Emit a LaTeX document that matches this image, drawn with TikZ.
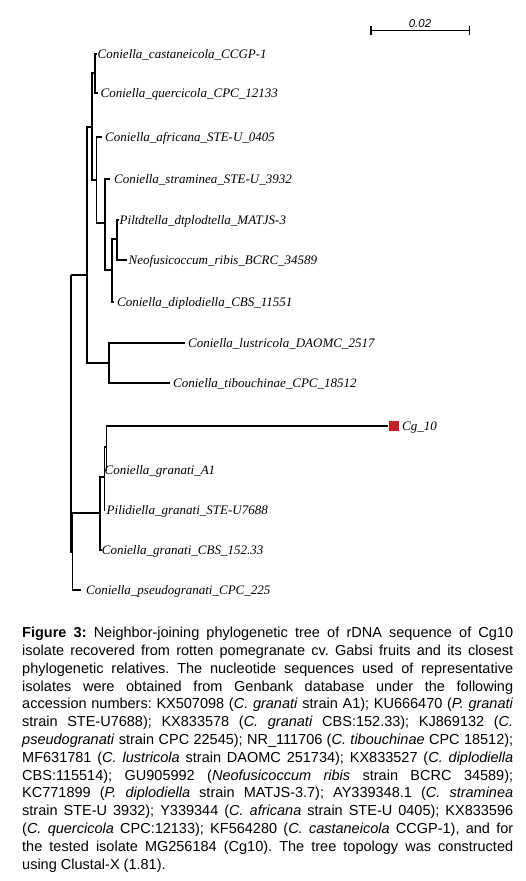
\documentclass[tikz,border=0pt]{standalone}
\usepackage{fontspec}
\setmainfont{Liberation Sans}
\newfontfamily\treefont{Liberation Serif}
\definecolor{cgred}{RGB}{192,32,40}
\tikzset{
  branch/.style={line width=1.1pt},
  leaflabel/.style={anchor=base west, inner sep=0pt, font=\treefont\itshape\fontsize{13}{15}\selectfont},
}
\begin{document}
\begin{tikzpicture}[x=1pt,y=-1pt]
\useasboundingbox (0,0) rectangle (526,881);
% ---- internal nodes
\coordinate (r) at (71,275);
\coordinate (u) at (87,275);
\coordinate (u1) at (92,127);
\coordinate (c1) at (95,73);
\coordinate (c2) at (96.5,180);
\coordinate (c3) at (105,223);
\coordinate (c4) at (112,270);
\coordinate (c5) at (117,239);
\coordinate (u2) at (109,363);
\coordinate (l) at (72.3,552);
\coordinate (g1) at (100,513);
\coordinate (g2) at (104.3,477);
\coordinate (g3) at (106.3,447);
% ---- leaf ends
\coordinate (e1) at (96.5,54);
\coordinate (e2) at (98,93);
\coordinate (e3) at (102,137);
\coordinate (e4) at (110,179);
\coordinate (e5) at (118.5,220);
\coordinate (e6) at (127,260);
\coordinate (e7) at (113.5,302);
\coordinate (e8) at (185,343);
\coordinate (e9) at (170,383);
\coordinate (e10) at (388,426);
\coordinate (e11) at (107,470);
\coordinate (e12) at (104.8,510);
\coordinate (e13) at (101.5,550);
\coordinate (e14) at (81,590);
% ---- branches
\draw[branch] (r) |- (u);
\draw[branch] (r) |- (l);
\draw[branch] (u) |- (u1);
\draw[branch] (u) |- (u2);
\draw[branch] (u1) |- (c1);
\draw[branch] (u1) |- (c2);
\draw[branch] (c1) |- (e1);
\draw[branch] (c1) |- (e2);
\draw[branch] (c2) |- (e3);
\draw[branch] (c2) |- (c3);
\draw[branch] (c3) |- (e4);
\draw[branch] (c3) |- (c4);
\draw[branch] (c4) |- (c5);
\draw[branch] (c4) |- (e7);
\draw[branch] (c5) |- (e5);
\draw[branch] (c5) |- (e6);
\draw[branch] (u2) |- (e8);
\draw[branch] (u2) |- (e9);
\draw[branch] (l) |- (g1);
\draw[branch] (l) |- (e14);
\draw[branch] (g1) |- (g2);
\draw[branch] (g1) |- (e13);
\draw[branch] (g2) |- (g3);
\draw[branch] (g2) |- (e12);
\draw[branch] (g3) |- (e10);
\draw[branch] (g3) |- (e11);
% ---- labels
\node[leaflabel] (t1) at (97.5,58.5) {Coniella\_castaneicola\_CCGP-1};
\node[leaflabel] (t2) at (100.5,97.5) {Coniella\_quercicola\_CPC\_12133};
\node[leaflabel] (t3) at (105,141.5) {Coniella\_africana\_STE-U\_0405};
\node[leaflabel] (t4) at (114,183.5) {Coniella\_straminea\_STE-U\_3932};
\node[leaflabel] (t5) at (119.5,224.5) {Piltdtella\_dtplodtella\_MATJS-3};
\node[leaflabel] (t6) at (128.5,264.5) {Neofusicoccum\_ribis\_BCRC\_34589};
\node[leaflabel] (t7) at (117,306.5) {Coniella\_diplodiella\_CBS\_11551};
\node[leaflabel] (t8) at (188,347.5) {Coniella\_lustricola\_DAOMC\_2517};
\node[leaflabel] (t9) at (173,387.5) {Coniella\_tibouchinae\_CPC\_18512};
\node[fill=cgred, minimum size=10pt, inner sep=0pt, anchor=west] (mk) at (388.3,425.5) {};
\node[leaflabel] (t10) at (402,430.5) {Cg\_10};
\node[leaflabel] (t11) at (104.5,474.5) {Coniella\_granati\_A1};
\node[leaflabel] (t12) at (106.5,514.5) {Pilidiella\_granati\_STE-U7688};
\node[leaflabel] (t13) at (101.7,554.5) {Coniella\_granati\_CBS\_152.33};
\node[leaflabel] (t14) at (86,594.5) {Coniella\_pseudogranati\_CPC\_225};
% ---- scale bar
\coordinate (sbl) at (371,30.7);
\coordinate (sbr) at (469.3,30.7);
\draw[line width=1.1pt] (sbl) -- (sbr);
\draw[line width=1.1pt] ([yshift=4.5pt]sbl) -- ([yshift=-4.5pt]sbl);
\draw[line width=1.1pt] ([yshift=4.5pt]sbr) -- ([yshift=-4.5pt]sbr);
\node[anchor=base, inner sep=0pt, font=\itshape\fontsize{11.4}{13}\selectfont] (sbt) at (420,27.7) {0.02};
% ---- caption
\node[anchor=base west, inner sep=0pt] (cap) at (22,637.7) {\parbox[t]{491pt}{\fontsize{14.5}{17.8}\selectfont\frenchspacing
\makebox[491pt][s]{\textbf{Figure 3:} Neighbor-joining phylogenetic tree of rDNA sequence of Cg10}\\
\makebox[491pt][s]{isolate recovered from rotten pomegranate cv. Gabsi fruits and its closest}\\
\makebox[491pt][s]{phylogenetic relatives. The nucleotide sequences used of representative}\\
\makebox[491pt][s]{isolates were obtained from Genbank database under the following}\\
\makebox[491pt][s]{accession numbers: KX507098 (\textit{C. granati} strain A1); KU666470 (\textit{P. granati}}\\
\makebox[491pt][s]{strain STE-U7688); KX833578 (\textit{C. granati} CBS:152.33); KJ869132 (\textit{C.}}\\
\makebox[491pt][s]{\textit{pseudogranati} strain CPC 22545); NR\_111706 (\textit{C. tibouchinae} CPC 18512);}\\
\makebox[491pt][s]{MF631781 (\textit{C. lustricola} strain DAOMC 251734); KX833527 (\textit{C. diplodiella}}\\
\makebox[491pt][s]{CBS:115514); GU905992 (\textit{Neofusicoccum ribis} strain BCRC 34589);}\\
\makebox[491pt][s]{KC771899 (\textit{P. diplodiella} strain MATJS-3.7); AY339348.1 (\textit{C. straminea}}\\
\makebox[491pt][s]{strain STE-U 3932); Y339344 (\textit{C. africana} strain STE-U 0405); KX833596}\\
\makebox[491pt][s]{(\textit{C. quercicola} CPC:12133); KF564280 (\textit{C. castaneicola} CCGP-1), and for}\\
\makebox[491pt][s]{the tested isolate MG256184 (Cg10). The tree topology was constructed}\\
using Clustal-X (1.81).}};
\end{tikzpicture}
\end{document}
